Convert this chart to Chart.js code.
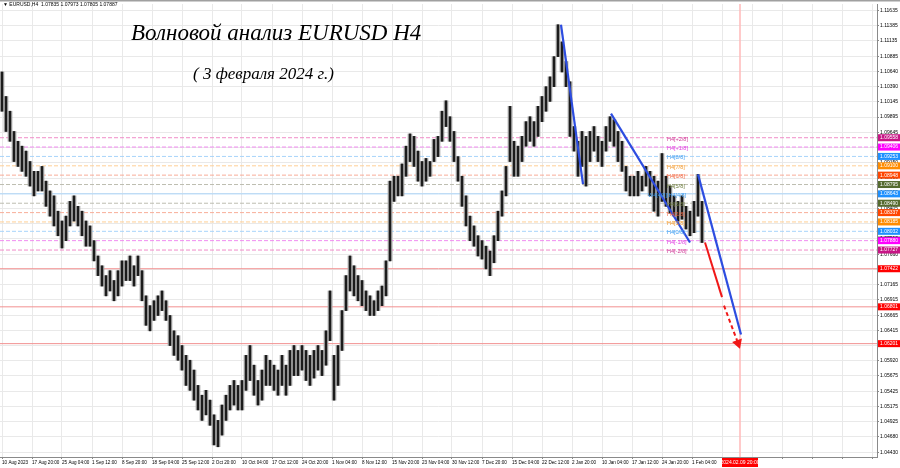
<!DOCTYPE html>
<html><head><meta charset="utf-8">
<script src="https://cdn.jsdelivr.net/npm/chart.js"></script>
<style>
html,body{margin:0;padding:0;background:#fff;}
#wrap{position:relative;width:900px;height:468px;overflow:hidden;}
canvas{position:absolute;left:0;top:0;}
.t{position:absolute;white-space:nowrap;color:#000;}
</style></head><body>
<div id="wrap"><canvas id="c" width="900" height="468"></canvas>
<div class="t" style="left:3px;top:0px;font:5px 'Liberation Sans';line-height:8px;">▼ EURUSD,H4&nbsp; 1.07835 1.07973 1.07805 1.07887</div>
<div class="t" style="left:131px;top:20px;font:italic 23px 'Liberation Serif';line-height:26px;">Волновой анализ EURUSD H4</div>
<div class="t" style="left:193px;top:64px;font:italic 17px 'Liberation Serif';line-height:20px;">( 3 февраля 2024 г.)</div>
</div>
<script>
// ---- data (bar index units, one bar per compressed step) ----
const highs = [
1.1063,1.1023,1.0999,1.0966,1.0950,1.0942,1.0934,1.0917,1.0901,1.0901,
1.0909,1.0885,1.0869,1.0861,1.0836,1.0820,1.0828,1.0852,1.0861,1.0844,
1.0836,1.0820,1.0812,1.0788,1.0763,1.0747,1.0731,1.0739,1.0723,1.0739,
1.0755,1.0755,1.0763,1.0747,1.0763,1.0739,1.0698,1.0682,1.0690,1.0698,
1.0706,1.0690,1.0666,1.0641,1.0633,1.0617,1.0601,1.0593,1.0577,1.0552,
1.0536,1.0544,1.0528,1.0504,1.0495,1.0520,1.0536,1.0552,1.0560,1.0552,
1.0560,1.0601,1.0617,1.0585,1.0560,1.0577,1.0601,1.0593,1.0585,1.0577,
1.0601,1.0585,1.0609,1.0617,1.0609,1.0617,1.0609,1.0601,1.0609,1.0617,
1.0609,1.0641,1.0706,1.0601,1.0617,1.0674,1.0731,1.0763,1.0747,1.0731,
1.0723,1.0706,1.0698,1.0690,1.0706,1.0714,1.0755,1.0885,1.0893,1.0893,
1.0913,1.0942,1.0962,1.0958,1.0934,1.0917,1.0922,1.0917,1.0953,1.0958,
1.0999,1.1016,1.0990,1.0966,1.0925,1.0893,1.0861,1.0828,1.0812,1.0796,
1.0788,1.0779,1.0771,1.0796,1.0836,1.0869,1.0909,1.1007,1.0950,1.0942,
1.0958,1.0982,1.0990,1.0982,1.1007,1.1023,1.1039,1.1055,1.1088,1.1140,
1.1112,1.1080,1.1047,1.0974,1.0950,1.0966,1.0958,1.0966,1.0974,1.0958,
1.0950,1.0974,1.0990,1.0985,1.0966,1.0950,1.0909,1.0893,1.0893,1.0901,
1.0893,1.0909,1.0901,1.0893,1.0885,1.0930,1.0893,1.0877,1.0861,1.0852,
1.0861,1.0844,1.0836,1.0852,1.0896,1.0852];
const lows = [
1.0999,1.0966,1.0950,1.0917,1.0909,1.0901,1.0893,1.0877,1.0861,1.0869,
1.0869,1.0844,1.0828,1.0812,1.0796,1.0776,1.0788,1.0812,1.0820,1.0812,
1.0796,1.0779,1.0779,1.0755,1.0731,1.0714,1.0698,1.0706,1.0690,1.0698,
1.0714,1.0723,1.0723,1.0714,1.0731,1.0690,1.0650,1.0641,1.0658,1.0666,
1.0674,1.0658,1.0617,1.0601,1.0593,1.0577,1.0552,1.0544,1.0528,1.0512,
1.0495,1.0504,1.0487,1.0455,1.0452,1.0471,1.0495,1.0512,1.0520,1.0512,
1.0512,1.0544,1.0560,1.0536,1.0520,1.0528,1.0552,1.0552,1.0544,1.0536,
1.0552,1.0536,1.0552,1.0568,1.0568,1.0577,1.0560,1.0552,1.0564,1.0577,
1.0568,1.0585,1.0625,1.0528,1.0552,1.0609,1.0674,1.0706,1.0698,1.0690,
1.0682,1.0674,1.0666,1.0666,1.0674,1.0682,1.0698,1.0755,1.0852,1.0861,
1.0861,1.0893,1.0917,1.0909,1.0885,1.0877,1.0885,1.0893,1.0917,1.0925,
1.0950,1.0974,1.0950,1.0917,1.0885,1.0844,1.0812,1.0788,1.0779,1.0763,
1.0758,1.0742,1.0731,1.0752,1.0788,1.0828,1.0861,1.0917,1.0893,1.0893,
1.0917,1.0942,1.0950,1.0942,1.0958,1.0982,1.0999,1.1015,1.1039,1.1088,
1.1063,1.1039,1.0958,1.0934,1.0893,1.0909,1.0877,1.0917,1.0934,1.0917,
1.0909,1.0934,1.0950,1.0942,1.0917,1.0901,1.0869,1.0861,1.0861,1.0861,
1.0869,1.0877,1.0861,1.0836,1.0828,1.0852,1.0844,1.0833,1.0828,1.0820,
1.0823,1.0807,1.0796,1.0801,1.0828,1.0785];

const xTickLabels = ['10 Aug 2023','17 Aug 20:00','25 Aug 04:00','1 Sep 12:00','8 Sep 20:00','18 Sep 04:00','25 Sep 12:00','2 Oct 20:00','10 Oct 04:00','17 Oct 12:00','24 Oct 20:00','1 Nov 04:00','8 Nov 12:00','15 Nov 20:00','23 Nov 04:00','30 Nov 12:00','7 Dec 20:00','15 Dec 04:00','22 Dec 12:00','2 Jan 20:00','10 Jan 04:00','17 Jan 12:00','24 Jan 20:00','1 Feb 04:00','','','','','',''];
const barsPerLabel = 7.5;
const yTickValues = [1.11635,1.11385,1.11135,1.10885,1.10640,1.10390,1.10145,1.09895,1.09645,1.09400,1.09150,1.08900,1.08655,1.08405,1.08155,1.07910,1.07660,1.07415,1.07165,1.06915,1.06665,1.06415,1.06170,1.05920,1.05675,1.05425,1.05175,1.04925,1.04680,1.04430];

const murrayPrices = [1.09558,1.09406,1.09253,1.09100,1.08948,1.08795,1.08643,1.08490,1.08337,1.08185,1.08032,1.07880,1.07727];
const murrayNames  = ['H4[+2/8]','H4[+1/8]','H4[8/8]','H4[7/8]','H4[6/8]','H4[5/8]','W4[4/8]|H4[4/8]','H4[3/8]','H4[2/8]','H4[1/8]','H4[0/8]','H4[-1/8]','H4[-2/8]'];
const targetPrices = [1.07422,1.06801,1.06201];
const currentPrice = 1.07887;
const futureBar = 184.5;
const futureLabel = '2024.02.09 20:00';

// wave lines: [bar, price]
const wave1 = [[139.75,1.1140],[145.25,1.0880]];
const wave2 = [[152.25,1.0995],[172.0,1.0785]];
const wave3 = [[174.0,1.0896],[184.75,1.0635]];
const arrowSolid = [[175.75,1.0785],[180.0,1.0696]];
const arrowDashed = [[180.5,1.0682],[184.0,1.0621]];

// ---- styles ----
const murrayBoxColors  = ['#c71585','#ff00ff','#1e90ff','#ff8c00','#ff4500','#556b2f','#1e90ff','#556b2f','#ff4500','#ff8c00','#1e90ff','#ff00ff','#c71585'];
const murrayLineColors = ['#f08cc8','#f08cf0','#a8d4fa','#ffcf95','#f8ad98','#bdbdb0','#a8d4fa','#bdbdb0','#f8ad98','#ffcf95','#a8d4fa','#f08cf0','#f08cc8'];
const murrayTextColors = ['#d0409a','#e040e0','#3d9cf0','#f29a30','#f0603a','#6b7b3b','#3d9cf0','#6b7b3b','#f0603a','#f29a30','#3d9cf0','#e040e0','#d0409a'];
const X_MIN = -0.5, X_MAX = 218.75, Y_MIN = 1.04353, Y_MAX = 1.11738;

const pts = a => a.map(([x,y]) => ({x, y}));
const makeRanges = () => highs.map((h,i) => ({x:i, y:[lows[i], h]}));
const datasets = [];
murrayPrices.forEach((p,k) => datasets.push({type:'line', data:[{x:X_MIN,y:p},{x:X_MAX,y:p}], borderColor:murrayLineColors[k], borderWidth:1, borderDash: k===6 ? [] : [4,2], pointRadius:0, order:10}));
targetPrices.forEach(p => datasets.push({type:'line', data:[{x:X_MIN,y:p},{x:X_MAX,y:p}], borderColor:'#f29090', borderWidth:1, pointRadius:0, order:10}));
datasets.push({type:'line', data:[{x:futureBar,y:Y_MIN},{x:futureBar,y:Y_MAX}], borderColor:'#ffb8b8', borderWidth:1.5, pointRadius:0, order:10});
datasets.push({type:'bar', data: makeRanges(), backgroundColor:'#a4a4a4', barThickness:4, grouped:false, order:6});
datasets.push({type:'bar', data: makeRanges(), backgroundColor:'#1c1c1c', barThickness:1.6, grouped:false, order:5});
[wave1, wave2, wave3].forEach(w => datasets.push({type:'line', data:pts(w), borderColor:'#2d4de0', borderWidth:2.2, pointRadius:0, order:1}));
datasets.push({type:'line', data:pts(arrowSolid), borderColor:'#f01818', borderWidth:2, pointRadius:0, order:1});
datasets.push({type:'line', data:pts(arrowDashed), borderColor:'#f01818', backgroundColor:'#f01818', borderWidth:2, borderDash:[4,3], pointRadius:[0,4], pointStyle:'triangle', pointRotation:161, order:1});

const overlay = {
  id:'overlay',
  beforeDraw(chart){ const c=chart.ctx; c.save(); c.fillStyle='#fff'; c.fillRect(0,0,chart.width,chart.height); c.restore(); },
  afterDatasetsDraw(chart){
    const {ctx, scales:{x,y}} = chart;
    ctx.save();
    ctx.font = '5.5px "Liberation Sans"';
    ctx.textBaseline = 'middle';
    murrayPrices.forEach((p,k) => {
      ctx.fillStyle = murrayTextColors[k];
      const bx = k===6 ? 161.5 : 166.25;
      ctx.fillText(murrayNames[k], x.getPixelForValue(bx), y.getPixelForValue(p)+1.5);
    });
    ctx.restore();
  },
  afterDraw(chart){
    const {ctx, chartArea, scales:{x,y}} = chart;
    ctx.save();
    ctx.fillStyle = '#a0a0a0'; ctx.fillRect(0,0,chart.width,1.5);
    ctx.font = '5px "Liberation Sans"';
    ctx.textBaseline = 'middle';
    const boxes = [[currentPrice,'#000000']];
    murrayPrices.forEach((p,k) => boxes.push([p, murrayBoxColors[k]]));
    targetPrices.forEach(p => boxes.push([p,'#ff0000']));
    for (const [p,col] of boxes) {
      const py = y.getPixelForValue(p);
      ctx.fillStyle = col; ctx.fillRect(chartArea.right+1, py-3.5, 22, 7);
      ctx.fillStyle = '#fff'; ctx.fillText(p.toFixed(5), chartArea.right+3, py);
    }
    const fx = x.getPixelForValue(futureBar);
    ctx.fillStyle = '#ff0000'; ctx.fillRect(fx-18, chartArea.bottom+1, 36, 9);
    ctx.fillStyle = '#fff'; ctx.textAlign='center'; ctx.fillText(futureLabel, fx, chartArea.bottom+5.5);
    ctx.restore();
  }
};

new Chart(document.getElementById('c'), {
  type:'bar',
  data:{datasets},
  options:{
    responsive:false, animation:false, devicePixelRatio:1,
    layout:{autoPadding:false, padding:{top:2,left:0,right:0,bottom:0}},
    plugins:{legend:{display:false}, tooltip:{enabled:false}},
    scales:{
      x:{type:'linear', min:X_MIN, max:X_MAX, offset:false,
        grid:{color:'#e9e9e9', offset:false, tickLength:2, tickColor:'#888'},
        border:{color:'#8a8a8a'},
        ticks:{autoSkip:false, maxRotation:0, minRotation:0, align:'start', padding:1, color:'#000', font:{size:4.6, family:'Liberation Sans'}, callback:(v,i)=>xTickLabels[i]},
        afterBuildTicks:s=>{ s.ticks = xTickLabels.map((_,k)=>({value:k*barsPerLabel})); },
        afterFit:s=>{ s.height = 11; }},
      y:{type:'linear', position:'right', min:Y_MIN, max:Y_MAX,
        grid:{color:'#e9e9e9', tickLength:2, tickColor:'#888'},
        border:{color:'#8a8a8a'},
        ticks:{padding:1, color:'#000', font:{size:5, family:'Liberation Sans'}, callback:v=>Number(v).toFixed(5)},
        afterBuildTicks:s=>{ s.ticks = yTickValues.map(v=>({value:v})); },
        afterFit:s=>{ s.width = 23; }}
    }
  },
  plugins:[overlay]
});
</script>
</body></html>
